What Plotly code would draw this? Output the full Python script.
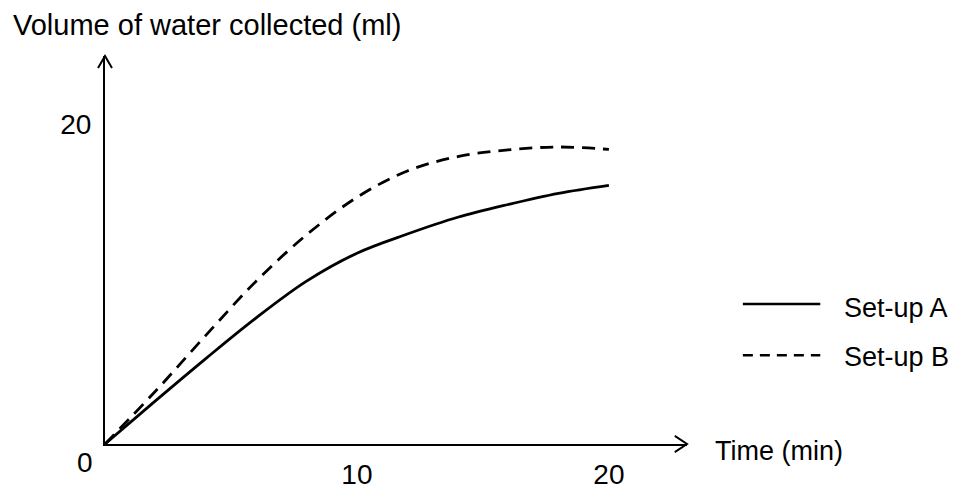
import plotly.graph_objects as go

# Time (min) sampled every 2 minutes
time_min = [0, 2, 4, 6, 8, 10, 12, 14, 16, 18, 20]
# Volume of water collected (ml)
setup_a = [0, 2.7, 5.35, 7.9, 10.2, 11.95, 13.15, 14.2, 15.0, 15.7, 16.2]
setup_b = [0, 3.3, 6.8, 10.2, 13.1, 15.45, 17.1, 18.0, 18.42, 18.6, 18.45]

x_ticks = [10, 20]
y_ticks = [20]

FONT = "Liberation Sans, Arial, sans-serif"
FS = 28

fig = go.Figure()

fig.add_trace(go.Scatter(
    x=time_min, y=setup_a, name="Set-up A", mode="lines",
    line=dict(color="black", width=2.8, shape="spline"),
    cliponaxis=False, showlegend=False,
))
fig.add_trace(go.Scatter(
    x=time_min, y=setup_b, name="Set-up B", mode="lines",
    line=dict(color="black", width=2.8, shape="spline", dash="13px,8px"),
    cliponaxis=False, showlegend=False,
))

# arrow heads on the axes (open V)
shapes = [
    dict(type="path", xref="paper", yref="paper",
         path="M 0.979,0.021 L 1,0 L 0.979,-0.021",
         line=dict(color="black", width=2)),
    dict(type="path", xref="paper", yref="paper",
         path="M -0.012,0.969 L 0,1 L 0.012,0.969",
         line=dict(color="black", width=2)),
    # legend samples
    dict(type="line", xref="paper", yref="paper",
         x0=1.096, x1=1.229, y0=0.361, y1=0.361,
         line=dict(color="black", width=2.5)),
    dict(type="line", xref="paper", yref="paper",
         x0=1.096, x1=1.229, y0=0.229, y1=0.229,
         line=dict(color="black", width=2.5, dash="10px,7px")),
]

annotations = [
    dict(text="Volume of water collected (ml)", xref="paper", yref="paper",
         x=-0.162, y=1.08, xanchor="left", yanchor="middle", showarrow=False,
         font=dict(size=FS + 1, family=FONT, color="black")),
    dict(text="Time (min)", xref="paper", yref="paper",
         x=1.045, y=0, xanchor="left", yanchor="middle", yshift=-7,
         showarrow=False, font=dict(size=FS - 1, family=FONT, color="black")),
    dict(text="0", x=0, y=0, xref="x", yref="y", showarrow=False,
         xshift=-20, yshift=-18, font=dict(size=FS, family=FONT, color="black")),
    dict(text="Set-up A", xref="paper", yref="paper", x=1.267, y=0.351,
         xanchor="left", yanchor="middle", showarrow=False,
         font=dict(size=FS - 1, family=FONT, color="black")),
    dict(text="Set-up B", xref="paper", yref="paper", x=1.267, y=0.224,
         xanchor="left", yanchor="middle", showarrow=False,
         font=dict(size=FS - 1, family=FONT, color="black")),
]

# page body keeps an 8px margin, so the figure starts 8px in from the corner
fig.update_layout(
    width=948, height=481,
    margin=dict(l=97, r=269, t=48, b=45),
    plot_bgcolor="white", paper_bgcolor="white",
    shapes=shapes, annotations=annotations,
    font=dict(family=FONT, size=FS, color="black"),
)
fig.update_xaxes(
    range=[0, 23.1], showgrid=False, zeroline=False, automargin=False,
    showline=True, linecolor="black", linewidth=2,
    tickvals=x_ticks, ticks="", ticklabelstandoff=4,
    tickfont=dict(size=FS, family=FONT, color="black"),
)
fig.update_yaxes(
    range=[0, 24.3], showgrid=False, zeroline=False, automargin=False,
    showline=True, linecolor="black", linewidth=2,
    tickvals=y_ticks, ticks="", ticklabelstandoff=6,
    tickfont=dict(size=FS, family=FONT, color="black"),
)

fig.write_html("out.html")
